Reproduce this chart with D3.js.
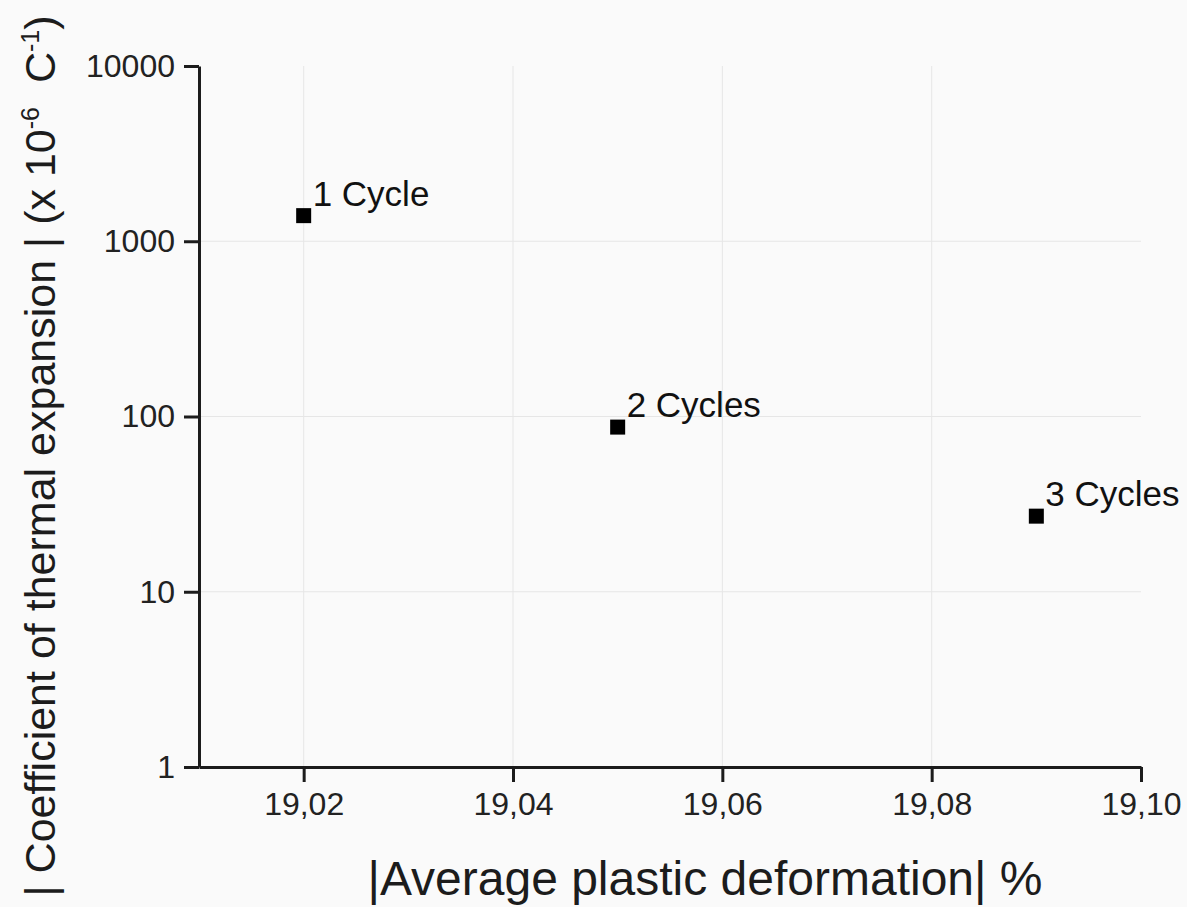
<!DOCTYPE html>
<html>
  <head>
    <title>Thermal expansion vs plastic deformation</title>
    <script src="https://d3js.org/d3.v7.min.js"></script>
    <style>
      body { margin: 0; background: #fafafa; }
      svg { display: block; font-family: "Liberation Sans", Arial, sans-serif; }
      .grid line { stroke: #e6e6e6; stroke-width: 1; }
      .axis path, .axis line { stroke: #1c1c1c; stroke-width: 3; }
      .axis text { fill: #222; font-size: 32px; }
      .pt-label { fill: #111; font-size: 35px; }
      .title { fill: #1c1c1c; }
    </style>
  </head>
  <body>
    <svg width="1187" height="907"></svg>
    <script>
      // data
      const labels = ["1 Cycle", "2 Cycles", "3 Cycles"];
      const deformation = [19.02, 19.05, 19.09];
      const cte = [1400, 87, 27];

      const xTicks = [19.02, 19.04, 19.06, 19.08, 19.10];
      const yTicks = [1, 10, 100, 1000, 10000];

      // plot box
      const plotLeft = 199, plotRight = 1141, plotTop = 66, plotBottom = 767;

      const svg = d3.select("svg");

      const x = d3.scaleLinear()
          .domain([19.01, 19.10])
          .range([plotLeft, plotRight]);

      const y = d3.scaleLog()
          .domain([1, 10000])
          .range([plotBottom, plotTop]);

      // light grid lines
      const grid = svg.append("g").attr("class", "grid");
      grid.selectAll(".vg")
          .data(xTicks.slice(0, -1))
          .enter().append("line")
          .attr("x1", d => x(d)).attr("x2", d => x(d))
          .attr("y1", plotTop).attr("y2", plotBottom);
      grid.selectAll(".hg")
          .data(yTicks.slice(1, -1))
          .enter().append("line")
          .attr("x1", plotLeft).attr("x2", plotRight)
          .attr("y1", d => y(d)).attr("y2", d => y(d));

      // axes
      const xAxis = d3.axisBottom(x)
          .tickValues(xTicks)
          .tickSize(15)
          .tickSizeOuter(0)
          .tickPadding(10)
          .tickFormat(d => d.toFixed(2).replace(".", ","));

      const yAxis = d3.axisLeft(y)
          .tickValues(yTicks)
          .tickSize(15)
          .tickSizeOuter(0)
          .tickPadding(9)
          .tickFormat(d3.format("d"));

      svg.append("g")
          .attr("class", "axis")
          .attr("transform", `translate(0,${plotBottom})`)
          .call(xAxis)
          .call(g => g.attr("font-family", null).attr("font-size", null));

      svg.append("g")
          .attr("class", "axis")
          .attr("transform", `translate(${plotLeft},0)`)
          .call(yAxis)
          .call(g => g.attr("font-family", null).attr("font-size", null));

      // points
      const pts = deformation.map((d, i) => ({ x: d, y: cte[i], label: labels[i] }));

      svg.selectAll(".pt")
          .data(pts)
          .enter().append("rect")
          .attr("class", "pt")
          .attr("x", d => x(d.x) - 7.5)
          .attr("y", d => y(d.y) - 7.5)
          .attr("width", 15)
          .attr("height", 15)
          .attr("fill", "#000");

      svg.selectAll(".pt-label")
          .data(pts)
          .enter().append("text")
          .attr("class", "pt-label")
          .attr("x", d => x(d.x) + 9)
          .attr("y", d => y(d.y) - 10)
          .text(d => d.label);

      // axis titles
      svg.append("text")
          .attr("class", "title")
          .attr("x", 705)
          .attr("y", 895)
          .attr("text-anchor", "middle")
          .style("font-size", "48px")
          .text("|Average plastic deformation| %");

      const yt = svg.append("text")
          .attr("class", "title")
          .attr("transform", "translate(55,456) rotate(-90)")
          .attr("text-anchor", "middle")
          .style("font-size", "43px");
      yt.append("tspan").text("| Coefficient of thermal expansion | (x 10");
      yt.append("tspan").attr("dy", -16).style("font-size", "25px").text("-6");
      yt.append("tspan").attr("dy", 16).text("\u00a0 C");
      yt.append("tspan").attr("dy", -16).style("font-size", "25px").text("-1");
      yt.append("tspan").attr("dy", 16).text(")");
    </script>
  </body>
</html>
